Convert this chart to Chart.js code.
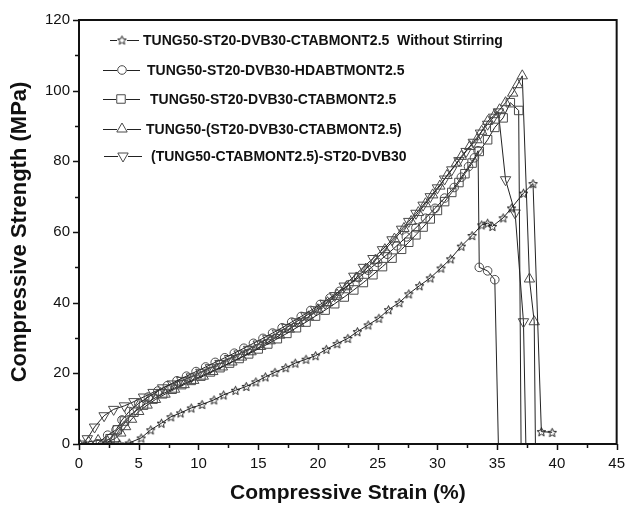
<!DOCTYPE html>
<html lang="en">
<head>
  <meta charset="UTF-8">
  <title>Compressive Strength vs Strain</title>
  <script src="https://cdn.jsdelivr.net/npm/chart.js"></script>
  <style>
    body {
      margin: 0;
      background-color: #ffffff;
    }
    canvas {
      display: block;
    }
  </style>
</head>
<body>
  <canvas id="strainChart" width="636" height="506"></canvas>

  <script>
    // x tick values (strain %) and y tick values (MPa)
    var xTicks = [0, 5, 10, 15, 20, 25, 30, 35, 40, 45];
    var yTicks = [0, 20, 40, 60, 80, 100, 120];

    var seriesNames = [
      'TUNG50-ST20-DVB30-CTABMONT2.5  Without Stirring',
      'TUNG50-ST20-DVB30-HDABTMONT2.5',
      'TUNG50-ST20-DVB30-CTABMONT2.5',
      'TUNG50-(ST20-DVB30-CTABMONT2.5)',
      '(TUNG50-CTABMONT2.5)-ST20-DVB30'
    ];

    // Without stirring (stars)
    var starX = [2.6, 3.4, 4.2, 5.2, 6.0, 6.9, 7.7, 8.5, 9.4, 10.3, 11.3, 12.1, 13.1, 14.0, 14.8, 15.6, 16.4, 17.3, 18.1, 19.0,
                 19.8, 20.7, 21.6, 22.5, 23.3, 24.2, 25.1, 25.9, 26.8, 27.6, 28.5, 29.4, 30.3, 31.1, 32.0, 32.9, 33.7, 34.2, 34.6, 35.5,
                 36.2, 37.2, 38.0, 38.7, 39.6];
    var starY = [0, 0, 0.3, 1.7, 4.0, 5.9, 7.7, 8.8, 10.2, 11.2, 12.5, 13.9, 15.2, 16.3, 17.6, 19.0, 20.3, 21.6, 22.9, 24.0,
                 25.0, 26.8, 28.4, 29.9, 31.8, 33.7, 35.6, 38.0, 40.0, 42.5, 44.8, 47.0, 49.8, 52.4, 56.0, 59.0, 62.0, 62.5, 61.6, 64.0,
                 66.8, 71.0, 73.7, 3.5, 3.3];

    // HDABTMONT (circles)
    var circleX = [1.5, 2.4, 3.1, 3.6, 4.2, 5.0, 5.8, 6.6, 7.4, 8.2, 9.0, 9.8, 10.6, 11.4, 12.2, 13.0, 13.8, 14.6, 15.4, 16.2,
                   17.0, 17.8, 18.6, 19.4, 20.2, 21.0, 21.8, 22.6, 23.4, 24.2, 25.0, 25.8, 26.6, 27.4, 28.2, 29.0, 29.8, 30.6, 31.4, 32.0,
                   32.6, 33.1, 33.4, 33.5, 34.2, 34.8, 35.1];
    var circleY = [0, 2.5, 4.0, 6.8, 9.2, 11.5, 13.3, 15.0, 16.5, 17.9, 19.2, 20.5, 21.8, 23.1, 24.4, 25.7, 27.1, 28.5, 29.9, 31.4,
                   32.9, 34.5, 36.1, 37.8, 39.5, 41.3, 43.2, 45.1, 47.1, 49.2, 51.4, 53.7, 56.1, 58.6, 61.2, 63.9, 66.7, 69.6, 72.6, 75.5,
                   78.5, 81.0, 83.0, 50.0, 49.0, 46.5, 0];

    // CTABMONT (squares)
    var squareX = [1.8, 2.6, 3.2, 3.8, 4.6, 5.4, 6.2, 7.0, 7.8, 8.6, 9.4, 10.2, 11.0, 11.8, 12.6, 13.4, 14.2, 15.0, 15.8, 16.6,
                   17.4, 18.2, 19.0, 19.8, 20.6, 21.4, 22.2, 23.0, 23.8, 24.6, 25.4, 26.2, 27.0, 27.6, 28.2, 28.8, 29.4, 30.0, 30.6, 31.2,
                   31.8, 32.3, 32.9, 33.5, 34.2, 34.8, 35.5, 36.1, 36.8, 37.0];
    var squareY = [0, 1.5, 4.0, 6.5, 9.0, 11.0, 12.7, 14.2, 15.5, 16.8, 18.0, 19.2, 20.4, 21.6, 22.9, 24.2, 25.5, 26.9, 28.3, 29.8,
                   31.3, 32.9, 34.5, 36.2, 37.9, 39.7, 41.6, 43.6, 45.7, 47.9, 50.2, 52.6, 55.1, 57.1, 59.2, 61.4, 63.7, 66.1, 68.6, 71.2,
                   74.0, 76.5, 79.5, 82.8, 86.1, 89.6, 92.3, 96.6, 94.4, 0];

    // TUNG50-(...) (triangles up)
    var triUpX = [0, 0.8, 1.6, 2.4, 3.0, 3.5, 3.9, 4.4, 5.0, 5.7, 6.4, 7.2, 8.0, 8.8, 9.6, 10.4, 11.2, 12.0, 12.8, 13.6,
                  14.4, 15.2, 16.0, 16.8, 17.6, 18.4, 19.2, 20.0, 20.8, 21.6, 22.4, 23.2, 24.0, 24.8, 25.6, 26.4, 27.2, 27.8, 28.4, 29.0,
                  29.6, 30.2, 30.8, 31.6, 32.0, 32.7, 33.3, 33.7, 34.2, 34.8, 35.2, 35.7, 36.3, 36.7, 37.1, 37.7, 38.1, 38.2];
    var triUpY = [0, 0.6, 1.0, 0.6, 1.5, 3.1, 4.9, 7.0, 9.2, 11.0, 12.6, 14.1, 15.5, 16.8, 18.0, 19.2, 20.5, 21.8, 23.2, 24.6,
                  26.1, 27.6, 29.2, 30.8, 32.5, 34.2, 36.0, 38.0, 40.0, 42.2, 44.5, 47.0, 49.5, 52.0, 55.0, 58.0, 61.0, 63.0, 65.5, 68.0,
                  70.5, 73.0, 76.0, 79.5, 81.4, 84.2, 86.1, 88.5, 91.3, 93.2, 94.6, 96.6, 99.3, 101.7, 104.2, 46.7, 34.6, 0];

    // (TUNG50-CTABMONT2.5)-... (triangles down)
    var triDownX = [0.2, 0.7, 1.3, 2.1, 2.9, 3.8, 4.6, 5.4, 6.2, 7.0, 7.8, 8.6, 9.4, 10.2, 11.0, 11.8, 12.6, 13.4, 14.2, 15.0,
                    15.8, 16.6, 17.4, 18.2, 19.0, 19.8, 20.6, 21.4, 22.2, 23.0, 23.8, 24.6, 25.4, 26.2, 27.0, 27.6, 28.2, 28.8, 29.4, 30.0,
                    30.6, 31.2, 31.8, 32.4, 33.0, 33.6, 34.2, 34.7, 35.1, 35.7, 36.5, 37.2, 37.4];
    var triDownY = [0, 1.5, 4.8, 8.0, 9.8, 10.8, 12.0, 13.3, 14.6, 15.9, 17.0, 18.0, 19.0, 20.3, 21.6, 22.8, 24.2, 25.5, 26.8, 28.3,
                    29.8, 31.4, 33.0, 34.6, 36.3, 38.0, 39.8, 42.0, 44.7, 47.5, 50.0, 52.5, 55.0, 57.8, 60.8, 63.0, 65.3, 67.6, 70.0, 72.5,
                    75.0, 77.6, 80.2, 82.8, 85.4, 88.0, 90.5, 92.5, 94.0, 74.8, 65.4, 34.6, 0];

    function toPoints(xs, ys) {
      return xs.map(function (x, i) { return { x: x, y: ys[i] }; });
    }

    // hollow five point star used as marker image
    function makeStar(r) {
      var c = document.createElement('canvas');
      var s = Math.ceil(r * 2 + 3);
      c.width = s;
      c.height = s;
      var g = c.getContext('2d');
      g.strokeStyle = '#222';
      g.lineWidth = 1;
      g.beginPath();
      for (var i = 0; i < 10; i++) {
        var rr = i % 2 ? r * 0.45 : r;
        var a = -Math.PI / 2 + i * Math.PI / 5;
        var px = s / 2 + rr * Math.cos(a);
        var py = s / 2 + rr * Math.sin(a) + 0.5;
        if (i) g.lineTo(px, py); else g.moveTo(px, py);
      }
      g.closePath();
      g.stroke();
      return c;
    }
    var starImg = makeStar(4.6);

    var lineColor = '#222';
    var markColor = '#4a4a4a';

    function makeSet(label, pts, style, radius, rotation, dropsToZero) {
      return {
        label: label,
        data: pts,
        showLine: true,
        tension: 0,
        borderColor: lineColor,
        borderWidth: 1,
        pointStyle: style,
        // the last point of a failure drop sits on the axis without a marker
        pointRadius: function (c) {
          if (dropsToZero && c.dataIndex === pts.length - 1) return 0;
          return radius;
        },
        pointRotation: rotation || 0,
        pointBorderColor: markColor,
        pointBackgroundColor: 'rgba(255,255,255,0)',
        pointBorderWidth: 1
      };
    }

    var datasets = [
      makeSet(seriesNames[0], toPoints(starX, starY), starImg, 4.6, 0, false),
      makeSet(seriesNames[1], toPoints(circleX, circleY), 'circle', 4.3, 0, true),
      makeSet(seriesNames[2], toPoints(squareX, squareY), 'rect', 6, 0, true),
      makeSet(seriesNames[3], toPoints(triUpX, triUpY), 'triangle', 6, 0, true),
      makeSet(seriesNames[4], toPoints(triDownX, triDownY), 'triangle', 6, 180, true)
    ];
    var legendRadius = [4.6, 4.3, 6, 6, 6];

    var fontFam = '"Liberation Sans", Arial, sans-serif';

    // frame, major/minor tick marks and the inset legend
    var decorPlugin = {
      id: 'decor',
      afterDraw: function (chart) {
        var ctx = chart.ctx;
        var a = chart.chartArea;
        var xs = chart.scales.x, ys = chart.scales.y;
        ctx.save();
        ctx.strokeStyle = '#111';
        ctx.lineWidth = 1.5;
        ctx.beginPath();
        for (var v = 0; v <= 45; v += 2.5) {
          var px = Math.round(xs.getPixelForValue(v)) + 0.5;
          var len = v % 5 === 0 ? 6 : 4;
          ctx.moveTo(px, a.bottom);
          ctx.lineTo(px, a.bottom + len);
        }
        for (var w = 0; w <= 120; w += 10) {
          var py = Math.round(ys.getPixelForValue(w)) + 0.5;
          var len2 = w % 20 === 0 ? 6 : 4;
          ctx.moveTo(a.left, py);
          ctx.lineTo(a.left - len2, py);
        }
        ctx.stroke();
        ctx.lineWidth = 2;
        ctx.strokeRect(a.left, a.top, a.right - a.left, a.bottom - a.top);

        // legend
        var rows = [
          { y: 40, x1: 110, x2: 139, mx: 122, tx: 143 },
          { y: 70, x1: 103, x2: 140, mx: 122, tx: 147 },
          { y: 99, x1: 103, x2: 140, mx: 121, tx: 150 },
          { y: 129, x1: 103, x2: 141, mx: 122, tx: 146 },
          { y: 156, x1: 104, x2: 142, mx: 123, tx: 151 }
        ];
        ctx.font = 'bold 14px ' + fontFam;
        ctx.textBaseline = 'middle';
        ctx.textAlign = 'left';
        rows.forEach(function (r, i) {
          var ds = datasets[i];
          ctx.strokeStyle = lineColor;
          ctx.lineWidth = 1;
          ctx.beginPath();
          ctx.moveTo(r.x1, r.y + 0.5);
          ctx.lineTo(r.x2, r.y + 0.5);
          ctx.stroke();
          ctx.fillStyle = '#fff';
          ctx.fillRect(r.mx - 5, r.y - 5, 10, 10);
          ctx.strokeStyle = markColor;
          ctx.fillStyle = 'rgba(255,255,255,0)';
          Chart.helpers.drawPoint(ctx, {
            pointStyle: ds.pointStyle,
            rotation: ds.pointRotation,
            radius: legendRadius[i],
            borderWidth: 1
          }, r.mx, r.y);
          ctx.fillStyle = '#111';
          ctx.fillText(seriesNames[i], r.tx, r.y + 1);
        });
        ctx.restore();
      }
    };

    var ctxMain = document.getElementById('strainChart').getContext('2d');

    var myChart = new Chart(ctxMain, {
      type: 'scatter',
      data: { datasets: datasets },
      plugins: [decorPlugin],
      options: {
        responsive: false,
        maintainAspectRatio: false,
        animation: false,
        devicePixelRatio: 1,
        layout: { padding: { top: 20, right: 8, left: 0, bottom: 0 } },
        plugins: {
          legend: { display: false },
          tooltip: { enabled: false }
        },
        scales: {
          x: {
            type: 'linear',
            min: xTicks[0],
            max: xTicks[xTicks.length - 1],
            afterFit: function (s) { s.height = 62; },
            afterBuildTicks: function (s) { s.ticks = xTicks.map(function (v) { return { value: v }; }); },
            grid: { display: false, drawTicks: false },
            border: { display: false },
            ticks: {
              padding: 11,
              color: '#111',
              font: { family: fontFam, size: 15 },
              maxRotation: 0
            },
            title: {
              display: true,
              text: 'Compressive Strain (%)',
              color: '#111',
              font: { family: fontFam, size: 21, weight: 'bold' },
              padding: { top: 0, bottom: 0 }
            }
          },
          y: {
            type: 'linear',
            min: yTicks[0],
            max: yTicks[yTicks.length - 1],
            afterFit: function (s) { s.width = 79; },
            afterBuildTicks: function (s) { s.ticks = yTicks.map(function (v) { return { value: v }; }); },
            grid: { display: false, drawTicks: false },
            border: { display: false },
            ticks: {
              padding: 9,
              color: '#111',
              font: { family: fontFam, size: 15 }
            },
            title: {
              display: true,
              text: 'Compressive Strength (MPa)',
              color: '#111',
              font: { family: fontFam, size: 22, weight: 'bold' },
              padding: { top: 7, bottom: 0 }
            }
          }
        }
      }
    });
  </script>
</body>
</html>
